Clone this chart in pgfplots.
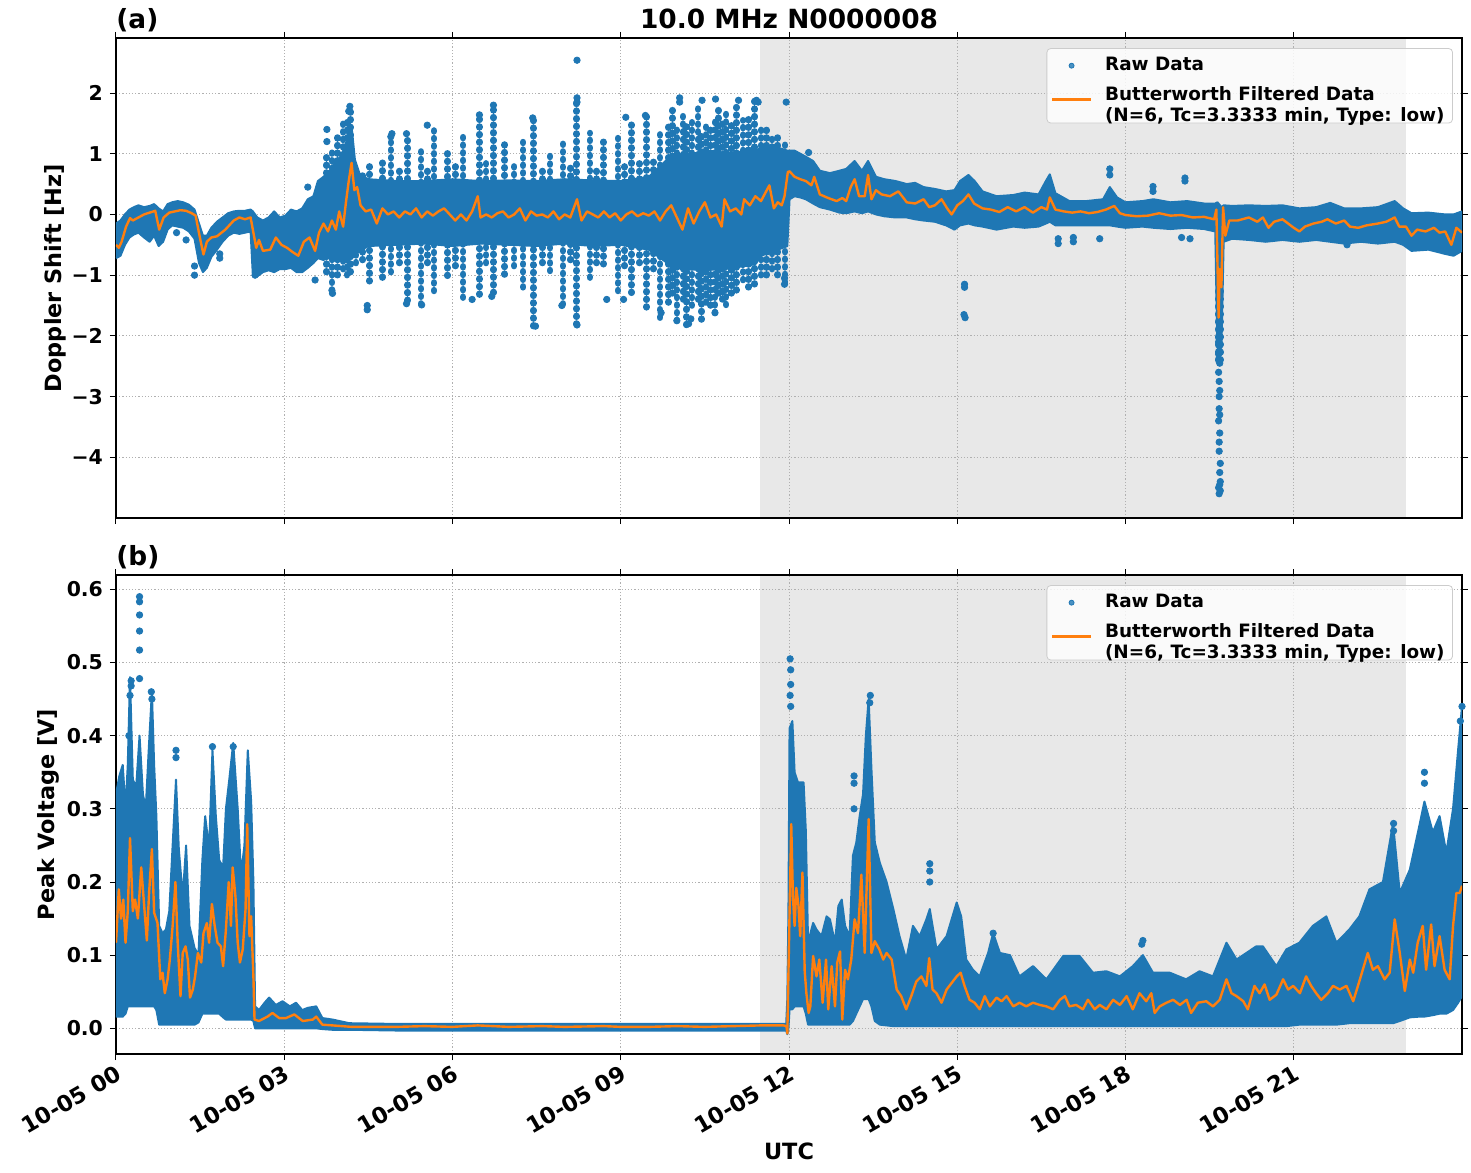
\documentclass[border=0pt]{standalone}
\usepackage{fontspec}
\setmainfont{DejaVu Sans}
\usepackage{pgfplots}
\pgfplotsset{compat=1.18}
\usepackage{pgfplotstable}
\usepgfplotslibrary{fillbetween}
\definecolor{tabblue}{HTML}{1F77B4}
\definecolor{taborange}{HTML}{FF7F0E}
\definecolor{gridgray}{HTML}{B0B0B0}
\definecolor{shade}{HTML}{E8E8E8}

\pgfplotsset{
  myaxis/.style={
    set layers,
    scale only axis, width=673pt,
    xmin=0, xmax=24,
    xtick={0,3,6,9,12,15,18,21},
    grid=major,
    major grid style={draw=gridgray, line width=0.45pt, dash pattern=on 0.6pt off 1pt},
    tick align=outside, major tick length=3pt,
    tick style={black, line width=0.5pt},
    axis line style={line width=0.6pt},
    tick label style={font=\bfseries\fontsize{10.2}{12}\selectfont},
    label style={font=\bfseries\fontsize{11.2}{13}\selectfont},
    legend style={at={(0.9933,0.979)}, anchor=north east, fill=white, fill opacity=0.8,
      text opacity=1, draw=black!20, rounded corners=2pt, inner xsep=2pt, inner ysep=2.5pt,
      font=\bfseries\fontsize{9.2}{10.85}\selectfont, row sep=1.5pt},
    legend cell align=left,
    legend image code/.code={\draw[mark repeat=2,mark phase=2,##1] plot coordinates {(0pt,0pt) (9.75pt,0pt) (19.5pt,0pt)};\path[draw=none,fill=none] (0pt,0pt) -- (24.5pt,0pt);},
    streak/.style={tabblue, line width=3.3pt, line cap=round, dash pattern=on 0.4pt off 3.4pt, unbounded coords=jump, forget plot},
  },
}

\pgfplotstableread{
x lo hi
0.00 -0.72 -0.15
0.08 -0.68 -0.10
0.16 -0.50 0.00
0.24 -0.38 0.08
0.32 -0.33 0.12
0.40 -0.30 0.15
0.50 -0.38 0.12
0.60 -0.45 0.14
0.68 -0.35 0.17
0.76 -0.52 0.10
0.84 -0.45 0.05
0.92 -0.25 0.17
1.00 -0.18 0.20
1.10 -0.20 0.22
1.20 -0.22 0.20
1.30 -0.28 0.16
1.40 -0.40 0.08
1.48 -0.80 -0.15
1.55 -0.95 -0.35
1.62 -0.88 -0.35
1.70 -0.70 -0.22
1.80 -0.58 -0.12
1.90 -0.45 -0.05
2.00 -0.35 0.02
2.10 -0.30 0.05
2.20 -0.32 0.06
2.30 -0.30 0.06
2.40 -0.28 0.08
2.44 -1.00 0.05
2.52 -1.02 -0.05
2.62 -0.95 -0.10
2.72 -0.92 -0.05
2.82 -0.95 0.05
2.92 -0.90 -0.05
3.02 -0.90 -0.02
3.12 -0.88 0.08
3.22 -0.95 0.05
3.32 -0.95 0.10
3.42 -0.88 0.25
3.52 -0.80 0.30
3.60 -0.72 0.55
3.70 -0.75 0.62
3.80 -0.70 0.70
3.90 -0.72 0.85
4.00 -0.75 0.95
4.08 -0.72 1.10
4.15 -0.70 1.35
4.20 -0.70 1.45
4.26 -0.65 0.90
4.35 -0.60 0.65
4.50 -0.52 0.58
5.00 -0.50 0.55
5.50 -0.48 0.55
6.00 -0.52 0.58
6.50 -0.48 0.55
7.00 -0.50 0.56
7.50 -0.52 0.55
8.00 -0.48 0.58
8.50 -0.52 0.56
9.00 -0.50 0.55
9.50 -0.58 0.62
9.80 -0.78 0.88
9.90 -0.88 0.98
10.50 -0.92 1.02
11.00 -0.88 1.02
11.40 -0.82 1.05
11.50 -0.68 1.10
11.80 -0.58 1.10
11.97 -0.52 1.05
12.01 0.25 1.05
12.10 0.30 1.05
12.20 0.28 1.00
12.30 0.25 0.95
12.43 0.18 0.88
12.55 0.12 0.72
12.73 0.08 0.68
12.90 0.03 0.72
13.02 0.02 0.75
13.17 0.05 0.88
13.30 0.02 0.72
13.41 0.05 0.88
13.55 0.00 0.62
13.70 -0.03 0.58
13.90 -0.05 0.55
14.10 -0.05 0.50
14.25 -0.08 0.52
14.40 -0.10 0.45
14.60 -0.12 0.42
14.80 -0.18 0.38
14.95 -0.25 0.40
15.05 -0.18 0.55
15.20 -0.15 0.65
15.31 -0.18 0.55
15.45 -0.20 0.38
15.70 -0.25 0.30
16.00 -0.20 0.32
16.20 -0.22 0.36
16.45 -0.20 0.33
16.58 -0.15 0.55
16.65 -0.12 0.66
16.75 -0.18 0.35
17.00 -0.18 0.22
17.30 -0.18 0.22
17.60 -0.18 0.25
17.72 -0.18 0.45
17.85 -0.20 0.28
18.00 -0.22 0.20
18.30 -0.20 0.22
18.50 -0.22 0.25
18.80 -0.24 0.20
19.10 -0.22 0.22
19.40 -0.24 0.18
19.60 -0.28 0.18
19.64 -2.20 0.20
19.71 -2.20 0.12
19.75 -0.45 0.15
19.90 -0.40 0.14
20.20 -0.42 0.15
20.50 -0.45 0.14
20.80 -0.42 0.15
21.10 -0.45 0.10
21.40 -0.42 0.12
21.65 -0.45 0.19
21.90 -0.48 0.10
22.20 -0.45 0.10
22.50 -0.48 0.12
22.80 -0.45 0.22
22.95 -0.50 0.10
23.10 -0.60 0.02
23.40 -0.58 0.03
23.70 -0.65 0.00
23.85 -0.68 0.00
24.00 -0.60 0.05
}\topband

\pgfplotstableread{
x y
0.00 -0.50
0.05 -0.55
0.10 -0.45
0.18 -0.20
0.25 -0.06
0.30 -0.10
0.40 -0.05
0.50 0.00
0.60 0.03
0.70 0.06
0.77 -0.25
0.85 -0.05
0.95 0.03
1.05 0.05
1.15 0.07
1.25 0.06
1.35 0.02
1.42 -0.02
1.50 -0.40
1.56 -0.66
1.62 -0.45
1.70 -0.38
1.80 -0.36
1.95 -0.25
2.10 -0.10
2.20 -0.05
2.30 -0.08
2.40 -0.05
2.44 -0.25
2.50 -0.55
2.55 -0.42
2.62 -0.60
2.75 -0.58
2.85 -0.38
2.95 -0.50
3.05 -0.55
3.15 -0.62
3.25 -0.68
3.35 -0.45
3.45 -0.38
3.55 -0.60
3.62 -0.30
3.70 -0.15
3.78 -0.28
3.85 -0.10
3.92 -0.25
3.98 0.05
4.05 -0.20
4.10 0.20
4.15 0.55
4.20 0.85
4.25 0.40
4.30 0.45
4.36 0.15
4.45 0.05
4.55 0.08
4.65 -0.15
4.75 0.10
4.85 0.00
4.95 0.05
5.05 -0.05
5.15 0.05
5.25 0.00
5.35 0.10
5.45 -0.05
5.55 0.05
5.65 -0.02
5.75 0.05
5.85 0.10
5.95 0.00
6.05 -0.10
6.15 0.00
6.25 -0.10
6.35 0.05
6.45 0.30
6.50 -0.05
6.60 0.00
6.70 -0.05
6.80 0.02
6.90 0.05
7.00 -0.05
7.10 0.00
7.20 0.10
7.30 -0.10
7.40 0.05
7.50 -0.02
7.60 0.00
7.70 -0.05
7.80 0.05
7.90 -0.08
8.00 0.00
8.10 -0.05
8.22 0.25
8.30 -0.10
8.40 0.05
8.50 0.00
8.60 -0.05
8.70 0.05
8.80 -0.05
8.90 0.02
9.00 -0.10
9.10 0.00
9.20 0.05
9.30 -0.03
9.40 0.02
9.50 -0.02
9.60 0.05
9.70 -0.10
9.80 0.05
9.90 0.15
10.00 -0.05
10.10 -0.25
10.20 0.10
10.30 -0.15
10.40 0.05
10.50 0.20
10.60 -0.05
10.70 0.00
10.80 -0.20
10.85 0.25
10.95 0.05
11.05 0.10
11.15 0.00
11.20 0.25
11.30 0.15
11.40 0.30
11.50 0.22
11.65 0.48
11.73 0.10
11.80 0.20
11.87 0.15
11.92 0.30
11.98 0.70
12.01 0.71
12.10 0.62
12.20 0.58
12.30 0.55
12.40 0.48
12.45 0.62
12.55 0.33
12.70 0.27
12.85 0.22
12.95 0.27
13.02 0.22
13.10 0.45
13.17 0.58
13.25 0.30
13.35 0.30
13.41 0.65
13.47 0.25
13.55 0.40
13.65 0.33
13.80 0.30
13.95 0.38
14.10 0.20
14.25 0.18
14.40 0.25
14.50 0.12
14.60 0.15
14.72 0.25
14.82 0.10
14.90 0.00
15.00 0.15
15.10 0.22
15.20 0.33
15.30 0.18
15.45 0.10
15.60 0.08
15.75 0.04
15.90 0.12
16.05 0.05
16.20 0.12
16.35 0.03
16.50 0.12
16.60 0.08
16.65 0.28
16.75 0.08
16.90 0.05
17.05 0.03
17.20 0.05
17.35 0.02
17.50 0.04
17.65 0.08
17.80 0.14
17.90 0.02
18.00 -0.01
18.20 -0.03
18.40 -0.02
18.60 0.02
18.80 -0.02
19.00 -0.01
19.20 -0.05
19.40 -0.04
19.58 -0.08
19.62 0.08
19.66 -1.70
19.68 -0.90
19.71 -1.20
19.74 0.12
19.78 -0.35
19.85 -0.10
20.00 -0.10
20.20 -0.05
20.35 -0.12
20.45 -0.05
20.55 -0.22
20.65 -0.12
20.80 -0.08
20.90 -0.15
21.00 -0.22
21.10 -0.28
21.20 -0.20
21.35 -0.15
21.50 -0.12
21.60 -0.08
21.75 -0.15
21.90 -0.10
22.00 -0.20
22.15 -0.22
22.30 -0.18
22.50 -0.15
22.65 -0.12
22.80 -0.05
22.88 -0.20
23.00 -0.20
23.10 -0.35
23.20 -0.25
23.35 -0.28
23.50 -0.22
23.60 -0.30
23.70 -0.28
23.81 -0.50
23.90 -0.22
24.00 -0.30
}\topfilt

\pgfplotstableread{
x lo hi
0.00 0.016 0.32
0.06 0.016 0.345
0.12 0.016 0.36
0.17 0.020 0.30
0.21 0.030 0.36
0.25 0.030 0.48
0.30 0.030 0.34
0.36 0.030 0.33
0.42 0.030 0.40
0.48 0.030 0.32
0.53 0.030 0.30
0.59 0.030 0.39
0.64 0.030 0.46
0.68 0.030 0.36
0.72 0.025 0.29
0.77 0.005 0.14
0.83 0.005 0.13
0.89 0.005 0.135
0.95 0.005 0.16
1.01 0.005 0.25
1.07 0.005 0.34
1.12 0.005 0.245
1.19 0.005 0.18
1.25 0.005 0.25
1.31 0.005 0.14
1.40 0.005 0.11
1.47 0.008 0.10
1.54 0.020 0.23
1.59 0.020 0.29
1.66 0.020 0.245
1.72 0.020 0.38
1.78 0.020 0.29
1.84 0.020 0.23
1.91 0.015 0.22
1.96 0.012 0.30
2.02 0.012 0.34
2.09 0.012 0.39
2.17 0.012 0.30
2.23 0.012 0.21
2.29 0.012 0.25
2.35 0.012 0.38
2.41 0.012 0.31
2.45 0.010 0.20
2.48 0.000 0.03
2.55 0.000 0.025
2.65 0.000 0.035
2.73 0.000 0.042
2.85 0.000 0.032
2.97 0.000 0.037
3.10 0.000 0.030
3.21 0.000 0.035
3.32 0.000 0.025
3.42 0.000 0.028
3.57 0.000 0.030
3.68 -0.001 0.014
3.86 -0.002 0.012
4.16 -0.002 0.007
5.00 -0.003 0.006
8.00 -0.003 0.006
11.95 -0.003 0.006
11.97 -0.008 0.04
11.99 0.000 0.16
12.01 0.026 0.41
12.06 0.026 0.42
12.10 0.030 0.35
12.16 0.030 0.336
12.22 0.030 0.336
12.26 0.030 0.336
12.30 0.020 0.27
12.34 0.005 0.117
12.43 0.005 0.144
12.49 0.005 0.135
12.58 0.005 0.126
12.67 0.005 0.153
12.73 0.005 0.149
12.82 0.005 0.117
12.88 0.005 0.167
12.94 0.005 0.176
13.00 0.005 0.14
13.08 0.005 0.126
13.14 0.010 0.236
13.20 0.020 0.254
13.26 0.030 0.29
13.32 0.040 0.32
13.37 0.040 0.40
13.42 0.040 0.45
13.47 0.030 0.354
13.53 0.010 0.254
13.62 0.005 0.226
13.74 0.004 0.20
13.86 0.003 0.163
13.97 0.003 0.126
14.09 0.003 0.094
14.21 0.003 0.14
14.33 0.003 0.126
14.45 0.003 0.149
14.51 0.003 0.163
14.63 0.003 0.108
14.81 0.003 0.126
14.99 0.003 0.172
15.07 0.003 0.153
15.16 0.003 0.094
15.28 0.003 0.08
15.40 0.003 0.071
15.55 0.003 0.103
15.64 0.003 0.13
15.76 0.003 0.103
15.94 0.003 0.10
16.11 0.003 0.071
16.35 0.003 0.085
16.59 0.003 0.067
16.89 0.003 0.099
17.18 0.003 0.099
17.42 0.003 0.076
17.66 0.003 0.078
17.90 0.003 0.071
18.13 0.003 0.085
18.31 0.003 0.10
18.49 0.003 0.076
18.79 0.003 0.076
19.08 0.003 0.067
19.32 0.003 0.078
19.56 0.003 0.071
19.80 0.003 0.117
19.98 0.003 0.094
20.33 0.003 0.112
20.45 0.003 0.112
20.69 0.003 0.085
20.87 0.003 0.108
21.10 0.005 0.117
21.34 0.005 0.14
21.58 0.005 0.153
21.76 0.005 0.117
21.99 0.007 0.135
22.17 0.007 0.153
22.35 0.007 0.19
22.59 0.007 0.20
22.77 0.007 0.28
22.89 0.010 0.185
23.07 0.015 0.217
23.24 0.016 0.277
23.33 0.016 0.31
23.48 0.018 0.268
23.60 0.020 0.29
23.72 0.020 0.24
23.84 0.025 0.30
23.93 0.035 0.38
24.00 0.044 0.44
}\botband

\pgfplotstableread{
x y
0.00 0.117
0.05 0.19
0.09 0.15
0.13 0.176
0.17 0.117
0.21 0.16
0.25 0.26
0.30 0.16
0.34 0.176
0.39 0.15
0.45 0.22
0.51 0.16
0.55 0.12
0.59 0.185
0.64 0.245
0.68 0.158
0.74 0.144
0.79 0.067
0.83 0.076
0.87 0.048
0.92 0.067
0.96 0.094
1.01 0.14
1.06 0.20
1.10 0.117
1.15 0.044
1.19 0.103
1.24 0.112
1.28 0.094
1.32 0.042
1.37 0.053
1.41 0.071
1.46 0.103
1.52 0.09
1.56 0.13
1.62 0.144
1.66 0.117
1.71 0.17
1.76 0.14
1.81 0.117
1.87 0.112
1.91 0.085
1.96 0.135
2.01 0.20
2.05 0.14
2.08 0.22
2.13 0.18
2.17 0.117
2.21 0.09
2.26 0.108
2.31 0.163
2.34 0.279
2.38 0.126
2.41 0.153
2.45 0.071
2.47 0.012
2.55 0.010
2.70 0.016
2.79 0.021
2.91 0.014
3.03 0.014
3.18 0.019
3.33 0.010
3.51 0.012
3.57 0.016
3.68 0.005
3.86 0.004
4.20 0.002
5.00 0.002
5.50 0.003
6.00 0.002
6.45 0.004
7.00 0.002
7.60 0.003
8.00 0.002
8.70 0.003
9.00 0.002
9.50 0.002
10.00 0.003
10.50 0.002
11.00 0.003
11.50 0.004
11.90 0.004
11.955 0.003
11.97 -0.007
12.00 0.117
12.04 0.279
12.07 0.18
12.10 0.14
12.13 0.192
12.17 0.167
12.20 0.126
12.24 0.213
12.28 0.078
12.31 0.048
12.35 0.021
12.38 0.03
12.43 0.099
12.49 0.071
12.54 0.094
12.60 0.035
12.66 0.094
12.70 0.026
12.76 0.085
12.82 0.03
12.86 0.09
12.91 0.105
12.95 0.012
13.00 0.08
13.05 0.067
13.11 0.094
13.17 0.149
13.23 0.13
13.29 0.21
13.35 0.103
13.42 0.286
13.47 0.103
13.53 0.119
13.61 0.108
13.68 0.094
13.74 0.103
13.83 0.094
13.92 0.053
14.00 0.044
14.09 0.026
14.18 0.044
14.27 0.064
14.36 0.071
14.45 0.058
14.50 0.096
14.56 0.053
14.63 0.048
14.72 0.035
14.81 0.053
14.90 0.062
14.99 0.071
15.06 0.076
15.13 0.058
15.22 0.039
15.31 0.035
15.40 0.026
15.49 0.044
15.58 0.03
15.70 0.042
15.79 0.037
15.88 0.044
16.00 0.03
16.11 0.035
16.23 0.03
16.35 0.035
16.47 0.032
16.59 0.03
16.71 0.026
16.83 0.039
16.92 0.044
17.00 0.03
17.12 0.032
17.24 0.026
17.33 0.039
17.45 0.026
17.54 0.032
17.66 0.026
17.78 0.039
17.90 0.032
18.02 0.044
18.13 0.026
18.25 0.048
18.37 0.037
18.46 0.048
18.52 0.021
18.61 0.03
18.73 0.035
18.85 0.039
18.97 0.032
19.09 0.039
19.17 0.021
19.29 0.035
19.44 0.037
19.56 0.03
19.68 0.039
19.80 0.067
19.89 0.048
19.98 0.044
20.10 0.037
20.18 0.026
20.30 0.058
20.39 0.048
20.48 0.06
20.57 0.039
20.69 0.046
20.81 0.067
20.90 0.053
20.99 0.058
21.11 0.048
21.22 0.071
21.31 0.058
21.40 0.048
21.49 0.039
21.61 0.048
21.70 0.058
21.82 0.053
21.94 0.058
22.06 0.037
22.18 0.067
22.32 0.103
22.41 0.08
22.50 0.085
22.62 0.067
22.71 0.076
22.80 0.149
22.89 0.103
22.98 0.051
23.07 0.094
23.13 0.076
23.21 0.117
23.30 0.14
23.36 0.08
23.45 0.142
23.51 0.085
23.60 0.126
23.69 0.08
23.78 0.067
23.84 0.14
23.90 0.185
23.96 0.185
24.00 0.195
}\botfilt

\begin{document}
\begin{tikzpicture}
% ---------------- panel (a) ----------------
\begin{axis}[myaxis, height=240pt, at={(0,0)}, anchor=north west,
  ymin=-5.0, ymax=2.906,
  ytick={-4,-3,-2,-1,0,1,2}, yticklabels={−4,−3,−2,−1,0,1,2},
  xticklabels={},
  ylabel={Doppler Shift [Hz]},
  ylabel style={at={(rel axis cs:-0.0453,0.5)}, anchor=center},
  after end axis/.code={
    \node[anchor=base west, inner sep=0pt, yshift=4.5pt, font=\bfseries\fontsize{13.2}{16}\selectfont] at (rel axis cs:0,1) {(a)};
    \node[anchor=base, inner sep=0pt, yshift=4.5pt, font=\bfseries\fontsize{13.2}{16}\selectfont] at (rel axis cs:0.5,1) {10.0 MHz N0000008};
  },
]
\addplot[on layer=axis background, fill=shade, draw=none, forget plot] coordinates {(11.48,-5.0) (23.0,-5.0) (23.0,2.906) (11.48,2.906)} -- cycle;
\addlegendimage{only marks, mark=*, mark size=1.25pt, tabblue}
\addlegendentry{Raw Data}
\addplot[name path=thi, tabblue, line width=1pt, line join=round, forget plot] table[x=x, y=hi] {\topband};
\addplot[name path=tlo, tabblue, line width=1pt, line join=round, forget plot] table[x=x, y=lo] {\topband};
\addplot[tabblue, forget plot] fill between[of=thi and tlo];
\addplot[streak] coordinates {
(3.75,-0.95) (3.75,1.00) (3.75,nan)
(3.85,-1.25) (3.85,1.10) (3.85,nan)
(3.95,-1.00) (3.95,1.30) (3.95,nan)
(4.05,-0.90) (4.05,1.50) (4.05,nan)
(4.12,-1.00) (4.12,1.60) (4.12,nan)
(4.18,-0.95) (4.18,1.75) (4.18,nan)
(4.28,-0.80) (4.28,0.71) (4.28,nan)
(4.40,-0.75) (4.40,0.75) (4.40,nan)
(4.52,-1.10) (4.52,0.88) (4.52,nan)
(4.75,-1.04) (4.75,0.93) (4.75,nan)
(4.90,-0.95) (4.90,1.28) (4.90,nan)
(5.05,-0.80) (5.05,0.80) (5.05,nan)
(5.20,-1.42) (5.20,1.26) (5.20,nan)
(5.44,-1.48) (5.44,1.04) (5.44,nan)
(5.55,-0.80) (5.55,0.75) (5.55,nan)
(5.67,-1.26) (5.67,1.47) (5.67,nan)
(5.91,-1.01) (5.91,1.01) (5.91,nan)
(6.05,-0.85) (6.05,0.80) (6.05,nan)
(6.19,-1.37) (6.19,1.30) (6.19,nan)
(6.48,-1.32) (6.48,1.64) (6.48,nan)
(6.60,-0.80) (6.60,0.85) (6.60,nan)
(6.73,-1.29) (6.73,1.80) (6.73,nan)
(6.93,-0.99) (6.93,1.26) (6.93,nan)
(7.10,-0.85) (7.10,0.80) (7.10,nan)
(7.26,-1.20) (7.26,1.20) (7.26,nan)
(7.44,-1.84) (7.44,1.59) (7.44,nan)
(7.60,-0.80) (7.60,0.80) (7.60,nan)
(7.74,-0.93) (7.74,0.99) (7.74,nan)
(7.97,-1.48) (7.97,1.26) (7.97,nan)
(8.10,-0.75) (8.10,0.85) (8.10,nan)
(8.21,-1.81) (8.21,1.92) (8.21,nan)
(8.45,-1.04) (8.45,1.34) (8.45,nan)
(8.57,-0.80) (8.57,0.80) (8.57,nan)
(8.69,-0.82) (8.69,1.29) (8.69,nan)
(8.95,-1.26) (8.95,1.32) (8.95,nan)
(9.07,-0.85) (9.07,0.80) (9.07,nan)
(9.19,-1.29) (9.19,1.53) (9.19,nan)
(9.33,-0.80) (9.33,0.85) (9.33,nan)
(9.46,-1.53) (9.46,1.64) (9.46,nan)
(9.58,-0.90) (9.58,0.90) (9.58,nan)
(9.70,-1.70) (9.70,1.32) (9.70,nan)
(9.85,-1.45) (9.85,1.55) (9.85,nan)
(9.92,-1.30) (9.92,1.78) (9.92,nan)
(10.00,-1.75) (10.00,1.40) (10.00,nan)
(10.11,-1.40) (10.11,1.70) (10.11,nan)
(10.17,-1.82) (10.17,1.50) (10.17,nan)
(10.27,-1.50) (10.27,1.55) (10.27,nan)
(10.38,-1.40) (10.38,1.76) (10.38,nan)
(10.44,-1.73) (10.44,1.30) (10.44,nan)
(10.52,-1.45) (10.52,1.50) (10.52,nan)
(10.60,-1.50) (10.60,1.45) (10.60,nan)
(10.68,-1.62) (10.68,1.60) (10.68,nan)
(10.74,-1.30) (10.74,1.80) (10.74,nan)
(10.81,-1.40) (10.81,1.55) (10.81,nan)
(10.88,-1.49) (10.88,1.73) (10.88,nan)
(10.97,-1.30) (10.97,1.50) (10.97,nan)
(11.06,-1.25) (11.06,1.80) (11.06,nan)
(11.18,-1.08) (11.18,1.55) (11.18,nan)
(11.28,-1.20) (11.28,1.60) (11.28,nan)
(11.39,-1.15) (11.39,1.88) (11.39,nan)
(11.50,-1.00) (11.50,1.50) (11.50,nan)
(11.60,-1.00) (11.60,1.40) (11.60,nan)
(11.70,-0.90) (11.70,1.35) (11.70,nan)
(11.80,-1.00) (11.80,1.30) (11.80,nan)
(11.93,-1.12) (11.93,1.20) (11.93,nan)
(19.65,-2.40) (19.65,-0.30) (19.65,nan)
(19.69,-2.40) (19.69,-0.30)
};
\addplot[only marks, mark=*, mark size=1.6pt, tabblue, forget plot] coordinates {
(8.22,2.54) (8.22,1.92) (8.22,1.85) (4.17,1.78) (4.15,1.70) (3.76,1.40) (3.76,1.20)
(4.90,1.28) (4.92,1.33) (5.55,1.47) (5.18,1.33) (3.85,-1.25) (3.86,-1.30) (4.48,-1.57)
(4.48,-1.50) (5.18,-1.47) (5.45,-1.49) (6.73,1.80) (6.48,1.64) (7.43,1.59) (7.48,-1.84)
(8.22,-1.82) (9.44,1.63) (9.09,1.60) (10.05,1.92) (10.05,1.85) (10.45,1.88) (10.69,1.90)
(11.10,1.88) (11.42,1.88) (11.45,1.85) (10.21,-1.80) (10.00,-1.75) (9.72,-1.62)
(10.68,-1.62) (10.25,-1.72) (6.35,-1.40) (6.70,-1.35) (7.95,-1.50) (8.75,-1.40)
(9.05,-1.40) (11.92,-1.15) (11.92,-1.05) (11.95,1.85) (15.13,-1.20) (15.13,-1.15)
(15.14,-1.70) (15.12,-1.65) (16.80,-0.40) (16.80,-0.48) (17.07,-0.38) (17.07,-0.45)
(17.54,-0.40) (17.72,0.65) (17.72,0.75) (12.35,1.02) (18.49,0.38) (18.49,0.46)
(19.06,0.55) (19.06,0.60) (19.00,-0.38) (19.15,-0.40) (21.95,-0.50) (1.40,-1.00)
(1.40,-0.85) (1.85,-0.65) (1.85,-0.72) (3.55,-1.08) (3.42,0.45) (1.08,-0.30)
(1.25,-0.42) (2.48,-1.00)
(19.66,-2.10) (19.68,-2.45) (19.66,-2.60) (19.68,-2.90) (19.67,-3.00) (19.67,-3.20)
(19.66,-3.40) (19.68,-3.60) (19.67,-3.75) (19.67,-3.90) (19.69,-4.10) (19.68,-4.25)
(19.69,-4.40) (19.66,-4.50) (19.67,-4.60) (19.69,-4.55) (19.68,-4.45) (19.66,-2.30)
(19.68,-3.30) (19.67,-2.75)
};
\addplot[taborange, line width=1.2pt, line join=round] table[x=x, y=y] {\topfilt};
\addlegendentry{\begin{tabular}{@{}l@{}}Butterworth Filtered Data\\(N=6, Tc=3.3333 min, Type: low)\end{tabular}}
\end{axis}

% ---------------- panel (b) ----------------
\begin{axis}[myaxis, height=239.5pt, at={(0,-268.5pt)}, anchor=north west,
  ymin=-0.0351, ymax=0.6196,
  ytick={0,0.1,0.2,0.3,0.4,0.5,0.6}, yticklabels={0.0,0.1,0.2,0.3,0.4,0.5,0.6},
  xticklabels={10-05 00,10-05 03,10-05 06,10-05 09,10-05 12,10-05 15,10-05 18,10-05 21},
  xticklabel style={rotate=30, anchor=north east, inner sep=1.5pt, font=\bfseries\fontsize{11.2}{13}\selectfont},
  ylabel={Peak Voltage [V]},
  ylabel style={at={(rel axis cs:-0.0505,0.5)}, anchor=center},
  xlabel={UTC},
  xlabel style={at={(rel axis cs:0.5,-0.203)}, anchor=center},
  after end axis/.code={\node[anchor=base west, inner sep=0pt, yshift=4.8pt, font=\bfseries\fontsize{13.2}{16}\selectfont] at (rel axis cs:0,1) {(b)};},
]
\addplot[on layer=axis background, fill=shade, draw=none, forget plot] coordinates {(11.48,-0.0351) (23.0,-0.0351) (23.0,0.6196) (11.48,0.6196)} -- cycle;
\addlegendimage{only marks, mark=*, mark size=1.25pt, tabblue}
\addlegendentry{Raw Data}
\addplot[name path=bhi, tabblue, line width=1pt, line join=round, forget plot] table[x=x, y=hi] {\botband};
\addplot[name path=blo, tabblue, line width=1pt, line join=round, forget plot] table[x=x, y=lo] {\botband};
\addplot[tabblue, forget plot] fill between[of=bhi and blo];
\addplot[only marks, mark=*, mark size=1.6pt, tabblue, forget plot] coordinates {
(0.42,0.590) (0.42,0.583) (0.42,0.565) (0.42,0.543) (0.42,0.517) (0.42,0.478)
(0.27,0.475) (0.27,0.468) (0.25,0.455) (0.63,0.46) (0.64,0.45) (0.23,0.40)
(1.07,0.38) (1.07,0.37) (1.72,0.385) (2.09,0.385)
(12.02,0.505) (12.03,0.49) (12.03,0.47) (12.02,0.455) (12.03,0.44)
(13.45,0.455) (13.44,0.445) (13.16,0.345) (13.16,0.335) (13.16,0.30)
(14.51,0.225) (14.51,0.215) (14.51,0.20) (15.64,0.13) (18.31,0.12) (18.29,0.115)
(22.78,0.28) (22.78,0.27) (23.33,0.35) (23.33,0.335) (24.0,0.44) (23.97,0.42)
};
\addplot[taborange, line width=1.2pt, line join=round] table[x=x, y=y] {\botfilt};
\addlegendentry{\begin{tabular}{@{}l@{}}Butterworth Filtered Data\\(N=6, Tc=3.3333 min, Type: low)\end{tabular}}
\end{axis}

\pgfresetboundingbox
\path[use as bounding box] (-58pt,19pt) rectangle (677.5pt,-567pt);
\end{tikzpicture}
\end{document}
